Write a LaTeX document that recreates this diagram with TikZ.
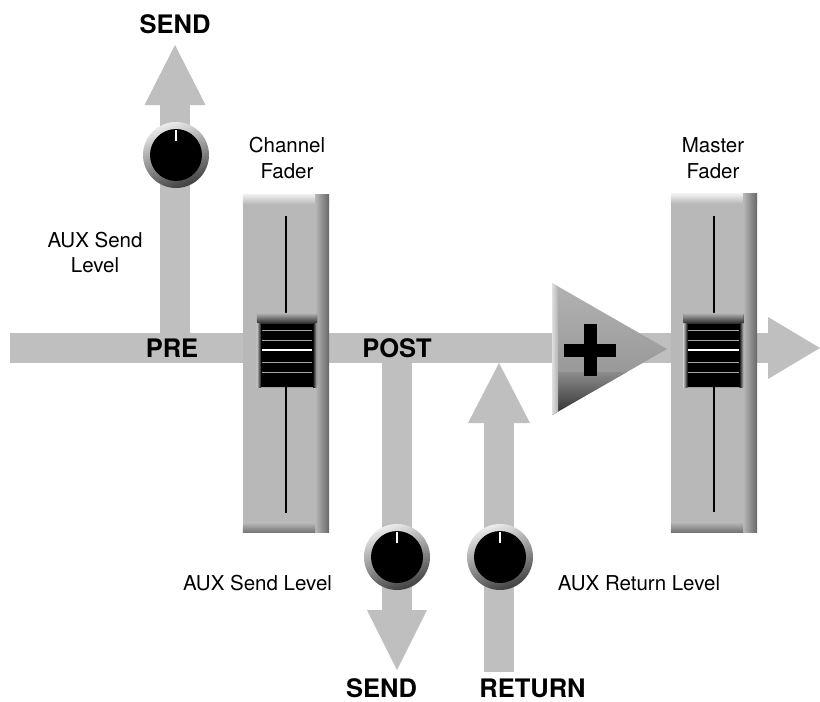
\documentclass[tikz,border=0pt]{standalone}
\usepackage{fontspec}
\setmainfont{TeX Gyre Heros}
\usetikzlibrary{arrows.meta,calc}
\definecolor{bandc}{gray}{0.75}
\definecolor{faderc}{gray}{0.72}
\definecolor{tria}{gray}{0.70}
\definecolor{trib}{gray}{0.55}
\definecolor{tric}{gray}{0.18}
\tikzset{
  bandline/.style={draw=bandc, line width=30pt, line cap=butt},
  faderbody/.style={rectangle, minimum width=86pt, minimum height=338pt, inner sep=0pt, fill=faderc, draw=none},
  fadercap/.style={rectangle, minimum width=60pt, minimum height=74pt, inner sep=0pt, fill=black, rounded corners=2pt},
  knob/.style={circle, minimum size=66pt, inner sep=0pt, top color=gray!15, bottom color=black!75, shading angle=20},
  boldlab/.style={font=\fontsize{25.5}{30}\selectfont\bfseries, inner sep=0pt, anchor=base},
  lab/.style={font=\fontsize{20.5}{25.5}\selectfont, inner sep=0pt, align=center},
}
\newcommand\faderdeco[1]{%
  \shade[top color=gray!12, bottom color=faderc] (#1.north west) rectangle ($(#1.north east)+(0,10)$);
  \shade[left color=faderc, right color=black!60] ($(#1.north east)+(-14,0)$) rectangle (#1.south east);
  \shade[top color=faderc, bottom color=black!55] ($(#1.south west)+(0,-10)$) rectangle ($(#1.south east)+(-14,0)$);
  \draw[black, line width=2pt] ($(#1.north)+(0,22)$) -- ($(#1.south)+(0,-20)$);
}
\newcommand\capdeco[1]{%
  \shade[top color=gray!55, bottom color=black!85, rounded corners=2pt] (#1.north west) rectangle ($(#1.north east)+(0,11)$);
  \shade[left color=black!90, right color=gray!45] ($(#1.north east)+(-4,11)$) rectangle (#1.south east);
  \shade[left color=gray!45, right color=black!90] ($(#1.north west)+(0,11)$) rectangle ($(#1.south west)+(4,0)$);
  \foreach \dy in {-20,-10,12,22}{\draw[gray!70, line width=1pt] ($(#1.west)+(5,\dy)$) -- ($(#1.east)+(-5,\dy)$);}
  \draw[white, line width=2pt] ($(#1.west)+(5,0)$) -- ($(#1.east)+(-5,0)$);
}
\newcommand\knobdeco[1]{%
  \fill[black] (#1) circle (26pt);
  \draw[white, line width=2pt] ($(#1)+(0,-25)$) -- ($(#1)+(0,-14)$);
}
\begin{document}
\begin{tikzpicture}[x=1pt,y=-1pt]
\useasboundingbox (0,0) rectangle (820,702);
% band coordinates
\coordinate (in) at (10,348);
\coordinate (out) at (820,348);
\coordinate (pre) at (175,348);
\coordinate (sendtop) at (175,45);
\coordinate (post) at (397,348);
\coordinate (sendbot) at (397,670);
\coordinate (retin) at (499,672);
\coordinate (retjoin) at (499,363);
% signal bands
\draw[bandline, -{Triangle[length=52pt,width=62pt,line width=0pt]}] (in) -- (out);
\draw[bandline, -{Triangle[length=60pt,width=61pt,line width=0pt]}] (pre) -- (sendtop);
\draw[bandline, -{Triangle[length=60pt,width=60pt,line width=0pt]}] (post) -- (sendbot);
\draw[bandline, -{Triangle[length=60pt,width=62pt,line width=0pt]}] (retin) -- (retjoin);
% channel fader
\node[faderbody] (chf) at (286,363.5) {};
\faderdeco{chf}
\node[fadercap] (chcap) at (287,350) {};
\capdeco{chcap}
% master fader
\node[faderbody] (msf) at (714,363) {};
\faderdeco{msf}
\node[fadercap] (mscap) at (713.5,350) {};
\capdeco{mscap}
% summing triangle
\coordinate (sum) at (590,350);
\shade[top color=tria, bottom color=trib] (552,283) -- (552,415) -- (667,349) -- cycle;
\begin{scope}
  \clip (552,283) -- (552,415) -- (667,349) -- cycle;
  \shade[top color=trib, bottom color=tric] (552,372) rectangle (667,415);
  \shade[left color=gray!25, right color=tria] (552,283) rectangle (558,415);
\end{scope}
\fill[black] ($(sum)+(-26,-6.5)$) rectangle ($(sum)+(26,6.5)$);
\fill[black] ($(sum)+(-6.5,-26)$) rectangle ($(sum)+(6.5,26)$);
% knobs
\node[knob] (k1) at (176,155) {};
\knobdeco{k1}
\node[knob] (k2) at (397,557) {};
\knobdeco{k2}
\node[knob] (k3) at (500,557) {};
\knobdeco{k3}
% labels
\node[boldlab] (tsend) at (175,33) {SEND};
\node[boldlab] (tpre) at (172,357) {PRE};
\node[boldlab] (tpost) at (397,357) {POST};
\node[boldlab] (bsend) at (381.5,697) {SEND};
\node[boldlab] (bret) at (532.5,697) {RETURN};
\node[lab] (chlab) at (287,158) {Channel\\Fader};
\node[lab] (mslab) at (713,158) {Master\\Fader};
\node[lab] (auxl) at (95,252.5) {AUX Send\\Level};
\node[lab, anchor=base] (auxs) at (257.5,590) {AUX Send Level};
\node[lab, anchor=base] (auxr) at (639,590) {AUX Return Level};
\end{tikzpicture}
\end{document}
